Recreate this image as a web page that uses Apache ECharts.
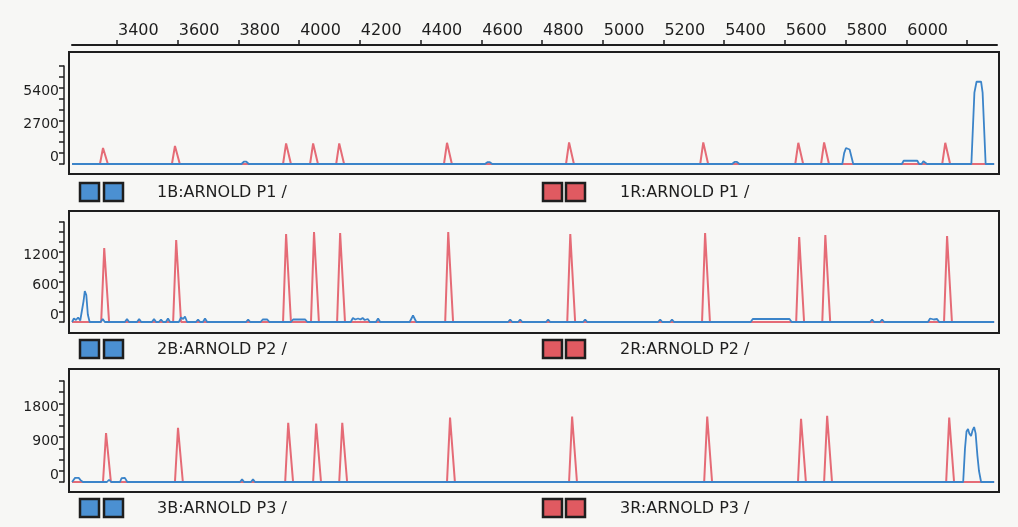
<!DOCTYPE html>
<html>
<head>
<meta charset="utf-8">
<script src="https://cdn.jsdelivr.net/npm/echarts@6/dist/echarts.min.js"></script>
<style>
  html, body { margin: 0; padding: 0; background: #f7f7f5; }
  #chart { width: 1018px; height: 527px; }
</style>
</head>
<body>
<div id="chart"></div>
<script>
// Scan-number axis shown above the three dye panels
const scanTicks = [3400, 3600, 3800, 4000, 4200, 4400, 4600, 4800, 5000, 5200, 5400, 5600, 5800, 6000, 6200];
const scanLabels = [3400, 3600, 3800, 4000, 4200, 4400, 4600, 4800, 5000, 5200, 5400, 5600, 5800, 6000];

// Per-panel sample names (blue channel, red channel)
const panelNames = [
  ['1B:ARNOLD P1 /', '1R:ARNOLD P1 /'],
  ['2B:ARNOLD P2 /', '2R:ARNOLD P2 /'],
  ['3B:ARNOLD P3 /', '3R:ARNOLD P3 /']
];

// Intensity axes: top of scale, tick step, labelled values
const yMax = [8100, 2000, 2700];
const yStep = [900, 200, 300];
const yLabels = [[0, 2700, 5400], [0, 600, 1200], [0, 900, 1800]];

// Panel 1 — red size standard trace [scan, intensity]
const p1Red = [
  [3252, 0],
  [3344, 0], [3354, 1320], [3360, 1320], [3370, 0],
  [3581, 0], [3591, 1490], [3597, 1490], [3607, 0],
  [3947, 0], [3957, 1700], [3963, 1700], [3973, 0],
  [4036, 0], [4046, 1700], [4052, 1700], [4062, 0],
  [4122, 0], [4132, 1700], [4138, 1700], [4148, 0],
  [4477, 0], [4487, 1750], [4493, 1750], [4503, 0],
  [4879, 0], [4889, 1780], [4895, 1780], [4905, 0],
  [5321, 0], [5331, 1780], [5337, 1780], [5347, 0],
  [5634, 0], [5644, 1750], [5650, 1750], [5660, 0],
  [5719, 0], [5729, 1780], [5735, 1780], [5745, 0],
  [6118, 0], [6128, 1750], [6134, 1750], [6144, 0],
  [6289, 0]
];

// Panel 1 — blue sample trace
const p1Blue = [
  [3252, 0],
  [3810, 0], [3818, 200], [3826, 200], [3834, 0],
  [4612, 0], [4620, 150], [4628, 150], [4636, 0],
  [5426, 0], [5434, 170], [5442, 170], [5450, 0],
  [5789, 0], [5795, 900], [5801, 1320], [5807, 1400], [5813, 1200], [5819, 600], [5825, 0],
  [5985, 0], [5991, 270], [6036, 270], [6042, 0],
  [6050, 0], [6056, 230], [6062, 230], [6068, 0],
  [6214, 0], [6224, 5900], [6231, 6800], [6246, 6800], [6251, 5900], [6261, 0],
  [6289, 0]
];

// Panel 2 — red size standard trace
const p2Red = [
  [3252, 0],
  [3348, 0], [3358, 1480], [3364, 1480], [3374, 0],
  [3585, 0], [3595, 1640], [3601, 1640], [3611, 0],
  [3947, 0], [3957, 1760], [3963, 1760], [3973, 0],
  [4039, 0], [4049, 1800], [4055, 1800], [4065, 0],
  [4125, 0], [4135, 1780], [4141, 1780], [4151, 0],
  [4481, 0], [4491, 1800], [4497, 1800], [4507, 0],
  [4883, 0], [4893, 1760], [4899, 1760], [4909, 0],
  [5327, 0], [5337, 1780], [5343, 1780], [5353, 0],
  [5637, 0], [5647, 1700], [5653, 1700], [5663, 0],
  [5723, 0], [5733, 1740], [5739, 1740], [5749, 0],
  [6124, 0], [6134, 1720], [6140, 1720], [6150, 0],
  [6289, 0]
];

// Panel 2 — blue sample trace
const p2Blue = [
  [3252, 0], [3258, 70], [3265, 40], [3272, 90], [3279, 30], [3285, 0],
  [3290, 420], [3294, 620], [3299, 540], [3304, 150], [3310, 0],
  [3346, 0], [3353, 60], [3360, 0],
  [3426, 0], [3433, 60], [3440, 0],
  [3466, 0], [3473, 60], [3480, 0],
  [3515, 0], [3522, 60], [3529, 0],
  [3538, 0], [3545, 50], [3552, 0],
  [3561, 0], [3568, 70], [3575, 0],
  [3604, 0], [3611, 90], [3618, 60], [3624, 110], [3631, 0],
  [3660, 0], [3667, 50], [3674, 0],
  [3683, 0], [3690, 70], [3697, 0],
  [3825, 0], [3832, 50], [3839, 0],
  [3873, 0], [3880, 50], [3895, 50], [3902, 0],
  [3973, 0], [3980, 50], [4020, 50], [4027, 0],
  [4170, 0], [4177, 80], [4185, 50], [4194, 70], [4202, 50], [4209, 80], [4216, 40], [4226, 60], [4233, 0],
  [4253, 0], [4260, 70], [4267, 0],
  [4364, 0], [4375, 130], [4386, 0],
  [4688, 0], [4695, 50], [4702, 0],
  [4721, 0], [4728, 50], [4735, 0],
  [4813, 0], [4820, 50], [4827, 0],
  [4935, 0], [4942, 50], [4949, 0],
  [5182, 0], [5189, 50], [5196, 0],
  [5221, 0], [5228, 50], [5235, 0],
  [5487, 0], [5494, 60], [5615, 60], [5622, 0],
  [5880, 0], [5887, 50], [5894, 0],
  [5913, 0], [5920, 50], [5927, 0],
  [6071, 0], [6078, 70], [6090, 50], [6101, 60], [6108, 0],
  [6289, 0]
];

// Panel 3 — red size standard trace
const p3Red = [
  [3252, 0],
  [3354, 0], [3364, 1310], [3370, 1310], [3380, 0],
  [3591, 0], [3601, 1450], [3607, 1450], [3617, 0],
  [3954, 0], [3964, 1580], [3970, 1580], [3980, 0],
  [4046, 0], [4056, 1560], [4062, 1560], [4072, 0],
  [4132, 0], [4142, 1580], [4148, 1580], [4158, 0],
  [4487, 0], [4497, 1720], [4503, 1720], [4513, 0],
  [4889, 0], [4899, 1750], [4905, 1750], [4915, 0],
  [5334, 0], [5344, 1750], [5350, 1750], [5360, 0],
  [5643, 0], [5653, 1690], [5659, 1690], [5669, 0],
  [5729, 0], [5739, 1770], [5745, 1770], [5755, 0],
  [6131, 0], [6141, 1720], [6147, 1720], [6157, 0],
  [6289, 0]
];

// Panel 3 — blue sample trace
const p3Blue = [
  [3252, 0], [3256, 40], [3262, 110], [3268, 160], [3274, 110], [3280, 50], [3288, 0],
  [3367, 0], [3374, 60], [3381, 0],
  [3410, 0], [3415, 100], [3420, 130], [3426, 110], [3434, 0],
  [3805, 0], [3812, 70], [3819, 0],
  [3841, 0], [3848, 70], [3855, 0],
  [6187, 0], [6193, 900], [6198, 1350], [6203, 1420], [6207, 1300], [6213, 1230],
  [6218, 1380], [6223, 1470], [6228, 1300], [6234, 700], [6239, 300], [6246, 0],
  [6289, 0]
];

const redTraces = [p1Red, p2Red, p3Red];
const blueTraces = [p1Blue, p2Blue, p3Blue];

// ---- layout ----
const INK = '#1e1e1e';
const RED = '#e56b76';
const BLUE = '#3b84c9';
const FONT = 'DejaVu Sans';
const plotLeft = 69, plotWidth = 930;
const scanMin = 3242, scanMax = 6305;
const frames = [{ top: 52, height: 122 }, { top: 211, height: 122 }, { top: 369, height: 123 }];
const scales = [{ top: 66, height: 98 }, { top: 222, height: 100 }, { top: 381, height: 101 }];
const rowY = [192, 349, 508];

const grid = [{ left: 72, width: 925, top: 44, height: 1 }];
const xAxis = [{
  gridIndex: 0, type: 'value', position: 'top', min: 3251.8, max: 6298.8,
  axisLine: { lineStyle: { color: INK, width: 2 } },
  axisTick: { customValues: scanTicks, length: 5, lineStyle: { color: INK, width: 1.5 } },
  axisLabel: { customValues: scanLabels, formatter: v => String(v), align: 'left', margin: 5,
               padding: [0, 0, 0, 1], fontSize: 16, fontFamily: FONT, color: INK },
  splitLine: { show: false }
}];
const yAxis = [{ gridIndex: 0, type: 'value', show: false }];
const series = [];

for (let i = 0; i < 3; i++) {
  // framed panel
  grid.push({ left: plotLeft, width: plotWidth, top: frames[i].top, height: frames[i].height,
              show: true, borderColor: INK, borderWidth: 2, backgroundColor: 'transparent' });
  xAxis.push({ gridIndex: grid.length - 1, type: 'value', show: false, min: 0, max: 1 });
  yAxis.push({ gridIndex: grid.length - 1, type: 'value', show: false, min: 0, max: 1 });

  // intensity scale and traces
  grid.push({ left: plotLeft, width: plotWidth, top: scales[i].top, height: scales[i].height });
  const gi = grid.length - 1;
  const labels = yLabels[i];
  xAxis.push({ gridIndex: gi, type: 'value', show: false, min: scanMin, max: scanMax });
  yAxis.push({
    gridIndex: gi, type: 'value', min: 0, max: yMax[i], interval: yStep[i], offset: 5,
    axisLine: { show: true, lineStyle: { color: INK, width: 1.5 } },
    axisTick: { show: true, length: 5, lineStyle: { color: INK, width: 1.5 } },
    splitLine: { show: false },
    axisLabel: {
      formatter: v => labels.includes(v) ? String(v) : '',
      verticalAlign: 'bottom', margin: 5, fontSize: 14, fontFamily: FONT, color: INK
    }
  });
  series.push({
    type: 'line', xAxisIndex: gi, yAxisIndex: gi, data: redTraces[i],
    showSymbol: false, clip: false, z: 2,
    lineStyle: { color: RED, width: 2 }
  });
  series.push({
    type: 'line', xAxisIndex: gi, yAxisIndex: gi, data: blueTraces[i],
    showSymbol: false, clip: false, z: 3,
    lineStyle: { color: BLUE, width: 1.8 }
  });
}

// channel keys under each panel
const graphic = [];
for (let i = 0; i < 3; i++) {
  const top = rowY[i] - 9;
  [[80, '#4b90d2'], [104, '#4b90d2'], [543, '#e05a61'], [566, '#e05a61']].forEach(([x, fill]) => {
    graphic.push({ type: 'rect', shape: { x: x, y: top, width: 19, height: 18 },
                   style: { fill: fill, stroke: INK, lineWidth: 2.5 } });
  });
  graphic.push({ type: 'text', x: 157, y: rowY[i] + 1,
                 style: { text: panelNames[i][0], fontSize: 16, fontFamily: FONT, fill: INK, verticalAlign: 'middle' } });
  graphic.push({ type: 'text', x: 620, y: rowY[i] + 1,
                 style: { text: panelNames[i][1], fontSize: 16, fontFamily: FONT, fill: INK, verticalAlign: 'middle' } });
}

const chart = echarts.init(document.getElementById('chart'));
chart.setOption({
  backgroundColor: '#f7f7f5',
  animation: false,
  grid, xAxis, yAxis, series, graphic
});
</script>
</body>
</html>
